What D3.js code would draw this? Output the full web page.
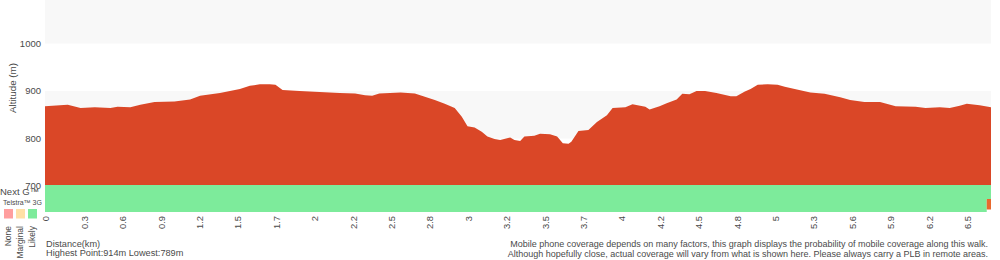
<!DOCTYPE html>
<html><head><meta charset="utf-8">
<script src="https://cdn.jsdelivr.net/npm/d3@7"></script>
<style>
html,body{margin:0;padding:0;background:#fff;}
svg text{font-family:"Liberation Sans",Arial,Helvetica,sans-serif;fill:#4a4a4a;}
</style></head>
<body>
<svg id="c" width="1000" height="260"></svg>
<script>
// ---- data ----
const distanceKm = [0.00,0.105,0.16,0.25,0.35,0.46,0.51,0.60,0.67,0.77,0.91,1.02,1.09,1.23,1.37,1.44,1.51,1.58,1.62,1.67,1.79,1.93,2.07,2.18,2.25,2.30,2.35,2.50,2.60,2.67,2.74,2.81,2.88,2.93,2.97,3.02,3.07,3.11,3.16,3.20,3.27,3.30,3.34,3.37,3.44,3.48,3.55,3.60,3.64,3.68,3.70,3.75,3.82,3.88,3.95,3.99,4.08,4.13,4.22,4.25,4.32,4.37,4.44,4.48,4.53,4.58,4.64,4.72,4.82,4.86,4.92,4.96,5.01,5.08,5.15,5.20,5.27,5.38,5.48,5.59,5.66,5.76,5.87,5.98,6.12,6.19,6.29,6.36,6.43,6.48,6.57,6.65];
const altitudeM  = [868,870,871,864,866,864,867,866,871,877,878,882,890,896,904,911,914,914,913,902,900,898,896,895,891,890,895,897,895,888,881,873,864,846,826,823,814,804,799,797,802,797,795,804,806,810,809,804,790,789,793,816,818,835,849,864,866,872,867,861,868,874,882,894,893,900,900,896,889,889,899,904,913,914,913,909,904,897,894,887,881,877,877,868,867,864,866,864,869,873,870,866];
const totalKm = 6.65;
const tickStepKm = 0.27;
const xTickLabels = ["0","0.3","0.6","0.9","1.2","1.5","1.7","2","2.2","2.5","2.8","3","3.2","3.5","3.7","4","4.2","4.5","4.8","5","5.3","5.6","5.9","6.2","6.5"];
const yTicks = [700,800,900,1000];
const networks = ["Next G\u2122","Telstra\u2122 3G"];
const nextGCoverage = [{from:0,to:6.65,level:"Likely"}];
const telstra3GCoverage = [{from:0,to:6.62,level:"Likely"},{from:6.62,to:6.65,level:"Edge"}];
const legendLevels = ["None","Marginal","Likely"];
const legendColors = ["#ff9e9e","#ffe0a6","#7deb9b"];
const coverageColors = {None:"#ff9e9e",Marginal:"#ffe0a6",Likely:"#7deb9b",Edge:"#e8692e"};
const highest = 914, lowest = 789;

// ---- layout ----
const svg = d3.select("#c");
const x = d3.scaleLinear().domain([0,totalKm]).range([45,991]);
const y = d3.scaleLinear().domain([700,1000]).range([186,43.5]);
const yTop = y.invert(0);

// background bands
const bands = [[1000,yTop],[800,900]];
svg.selectAll("rect.band").data(bands).join("rect")
  .attr("x",x(0)).attr("width",x(totalKm)-x(0))
  .attr("y",d=>y(d[1])).attr("height",d=>y(d[0])-y(d[1]))
  .attr("fill","#f8f8f8");

// area
const pts = distanceKm.map((d,i)=>({d, a:altitudeM[i]}));
const area = d3.area().x(p=>x(p.d)).y0(y(700)).y1(p=>y(p.a));
svg.append("path").datum(pts).attr("d",area).attr("fill","#da4727");

// coverage rows
const rowTop = [185,199];
const rowH = [14,13];
const rows = [nextGCoverage, telstra3GCoverage];
rows.forEach((segs,r)=>{
  svg.selectAll("rect.cov"+r).data(segs).join("rect")
    .attr("x",s=>x(s.from)).attr("width",s=>x(s.to)-x(s.from))
    .attr("y",rowTop[r]).attr("height",s=>s.level==="Edge"?10.5:rowH[r])
    .attr("fill",s=>coverageColors[s.level]);
});

// y axis labels
svg.selectAll("text.yt").data(yTicks).join("text")
  .attr("x",41).attr("y",d=>y(d)).attr("dy","0.35em")
  .attr("text-anchor","end").attr("font-size","9.5px").text(d=>d);
svg.append("text").attr("transform","translate(13,88) rotate(-90)")
  .attr("dy","0.35em").attr("text-anchor","middle").attr("font-size","9.8px").text("Altitude (m)");

// network labels
svg.append("text").attr("x",0).attr("y",195).attr("font-size","9.5px").text(networks[0]);
svg.append("text").attr("x",3).attr("y",205).attr("font-size","7px").text(networks[1]);

// legend
svg.selectAll("rect.lg").data(legendLevels).join("rect")
  .attr("x",(d,i)=>4+i*12).attr("y",209).attr("width",9).attr("height",9.5)
  .attr("fill",(d,i)=>legendColors[i]);
svg.selectAll("text.lg").data(legendLevels).join("text")
  .attr("transform",(d,i)=>`translate(${8.5+i*12},226) rotate(-90)`)
  .attr("dy","0.35em").attr("text-anchor","end").attr("font-size","8.5px").text(d=>d);

// x axis tick labels
const tickVals = xTickLabels.map((l,i)=>i*tickStepKm);
svg.selectAll("text.xt").data(tickVals).join("text")
  .attr("transform",(d)=>`translate(${x(d)+1},216) rotate(-90)`)
  .attr("dy","0.35em").attr("text-anchor","end").attr("font-size","9.4px")
  .text((d,i)=>xTickLabels[i]);

// bottom texts
svg.append("text").attr("x",46).attr("y",247).attr("font-size","9.2px").text("Distance(km)");
svg.append("text").attr("x",46).attr("y",256).attr("font-size","9.2px").text(`Highest Point:${highest}m Lowest:${lowest}m`);
svg.append("text").attr("x",988).attr("y",247).attr("text-anchor","end").attr("font-size","9px")
  .text("Mobile phone coverage depends on many factors, this graph displays the probability of mobile coverage along this walk.");
svg.append("text").attr("x",988).attr("y",257).attr("text-anchor","end").attr("font-size","9px")
  .text("Although hopefully close, actual coverage will vary from what is shown here. Please always carry a PLB in remote areas.");
</script>
</body></html>
